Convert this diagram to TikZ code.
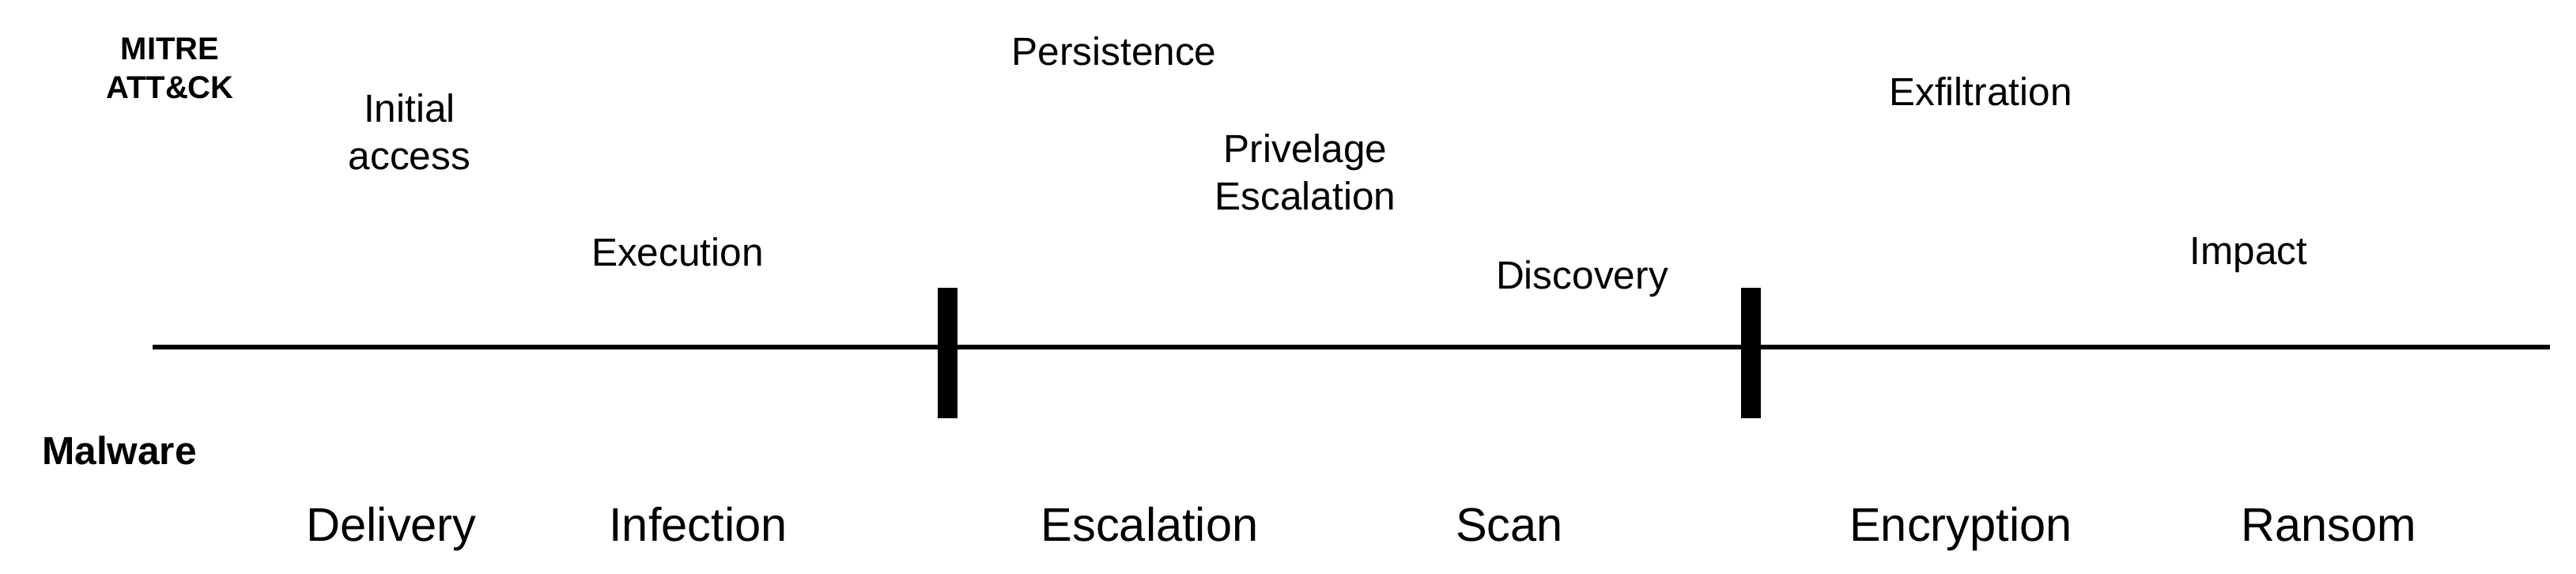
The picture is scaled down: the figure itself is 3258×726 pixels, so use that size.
\documentclass[tikz,border=0pt]{standalone}
\usepackage{fontspec}
\setmainfont{Liberation Sans}

\begin{document}
\begin{tikzpicture}[x = 0.25pt, y = -0.25pt,
  heading/.style = {anchor = base, align = center, font = \bfseries\fontsize{10}{12.3}\selectfont},
  tactic/.style  = {anchor = base, align = center, font = \fontsize{12.4}{15}\selectfont},
  phase/.style   = {anchor = base, font = \fontsize{14.9}{18}\selectfont}]

% The figure is measured in pixels of the original, y going down
\useasboundingbox (0,0) rectangle (3258, 726);

% Reference points of the time line
\coordinate (line start)  at (193, 439);
\coordinate (line end)    at (3225, 439);
\coordinate (cut1 top)    at (1198, 364);     % (first break)
\coordinate (cut1 bottom) at (1198, 529);
\coordinate (cut2 top)    at (2214, 364);     % (second break)
\coordinate (cut2 bottom) at (2214, 529);

% Draw the time line and the breaks
\draw[line width = 1.4pt] (line start) -- (line end);
\draw[line width = 6.25pt] (cut1 top) -- (cut1 bottom);
\draw[line width = 6.25pt] (cut2 top) -- (cut2 bottom);

% Row titles (base of a two-line node is its last line)
\node[heading] (mitre) at (215, 125) {MITRE\\ATT\&CK};
\node[heading, font = \bfseries\fontsize{12.4}{15}\selectfont] (malware) at (151, 588) {Malware};

% MITRE tactics, above the line
\node[tactic] (initial)      at (518, 215)  {Initial\\access};
\node[tactic] (execution)    at (857, 337)  {Execution};
\node[tactic] (persistence)  at (1409, 83)  {Persistence};
\node[tactic] (privilege)    at (1651, 266) {Privelage\\Escalation};
\node[tactic] (discovery)    at (2001, 366) {Discovery};
\node[tactic] (exfiltration) at (2505, 134) {Exfiltration};
\node[tactic] (impact)       at (2844, 335) {Impact};

% Malware phases, below the line
\node[phase] (delivery)   at (495, 685)  {Delivery};
\node[phase] (infection)  at (883, 685)  {Infection};
\node[phase] (escalation) at (1454, 685) {Escalation};
\node[phase] (scan)       at (1909, 685) {Scan};
\node[phase] (encryption) at (2480, 685) {Encryption};
\node[phase] (ransom)     at (2945, 685) {Ransom};

\end{tikzpicture}
\end{document}
